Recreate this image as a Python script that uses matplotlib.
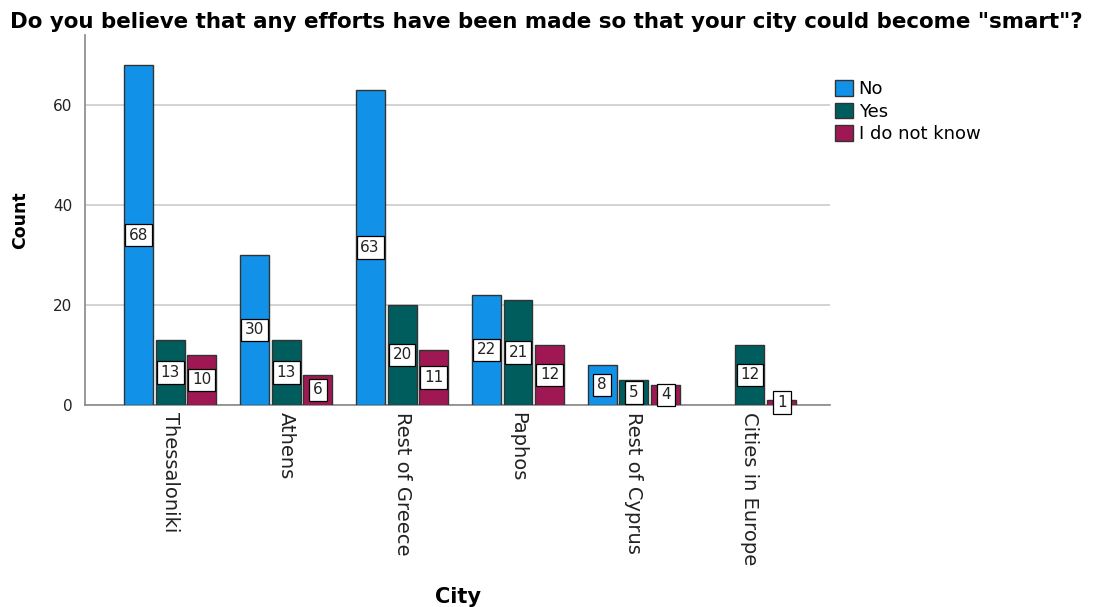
import matplotlib.pyplot as plt
import numpy as np

plt.rcParams['font.family'] = ['DejaVu Sans']

# Data
cities = ["Thessaloniki", "Athens", "Rest of Greece", "Paphos", "Rest of Cyprus", "Cities in Europe"]
answers = ["No", "Yes", "I do not know"]
no_counts = [68, 30, 63, 22, 8, 0]
yes_counts = [13, 13, 20, 21, 5, 12]
idk_counts = [10, 6, 11, 12, 4, 1]

colors = ['#1192e8', '#005d5d', '#9f1853']

fig = plt.figure(figsize=(10.94, 6.07), dpi=100)
ax = fig.add_axes([0.0777, 0.3328, 0.681, 0.6095])

x = np.arange(len(cities))
width = 0.25
offsets = [-0.275, 0, 0.275]

for series, off, col, name in zip([no_counts, yes_counts, idk_counts], offsets, colors, answers):
	for xi, v in zip(x, series):
		if v == 0:
			continue
		ax.bar(xi + off, v, width=width, color=col, edgecolor='#333333', linewidth=1, zorder=3)
		ax.text(xi + off, v / 2, str(v), ha='center', va='center', fontsize=11, color='#222222', zorder=4,
			bbox=dict(boxstyle='square,pad=0.25', fc='white', ec='black', lw=0.9))
	ax.bar(np.nan, 0, width=width, color=col, edgecolor='#333333', linewidth=1, label=name)

ax.set_xlim(-0.733, 5.69)
ax.set_ylim(0, 74)
ax.set_yticks([0, 20, 40, 60])
ax.yaxis.grid(True, color='#cccccc', linewidth=1.2, zorder=0)
ax.set_axisbelow(True)
for s in ['top', 'right']:
	ax.spines[s].set_visible(False)
ax.spines['left'].set_color('#888888')
ax.spines['bottom'].set_color('#888888')
ax.spines['left'].set_linewidth(1.2)
ax.spines['bottom'].set_linewidth(1.2)
ax.tick_params(axis='both', length=0, colors='#222222')
ax.tick_params(axis='y', pad=9, labelsize=11)
ax.tick_params(axis='x', pad=5, labelsize=14)
ax.set_xticks(x)
ax.set_xticklabels(cities, rotation=270, ha='center', va='top')

ax.set_ylabel("Count", fontsize=12.5, fontweight='bold', labelpad=17)
fig.text(0.419, 0.016, "City", fontsize=15, fontweight='bold', ha='center', va='center')
fig.text(0.009, 0.9638, 'Do you believe that any efforts have been made so that your city could become "smart"?',
	fontsize=15.4, fontweight='bold', ha='left', va='center')

leg = fig.legend(loc='upper left', bbox_to_anchor=(0.7633, 0.868), bbox_transform=fig.transFigure,
	frameon=False, fontsize=13, handlelength=1.0, handleheight=0.95, handletextpad=0.3,
	labelspacing=0.25, borderaxespad=0, borderpad=0)

plt.savefig("out.png", dpi=100)
